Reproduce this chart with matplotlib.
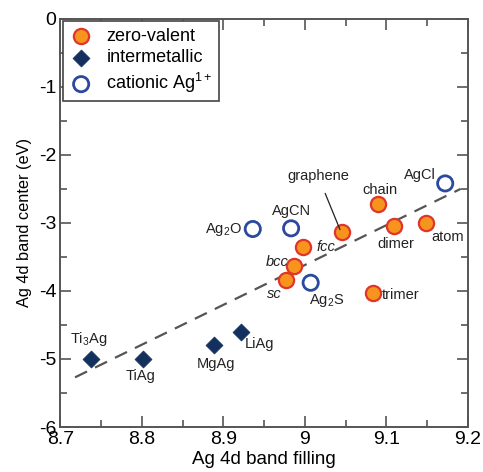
import matplotlib
matplotlib.use("Agg")
import matplotlib.pyplot as plt
from matplotlib.ticker import MultipleLocator

plt.rcParams['font.family'] = ['Liberation Sans', 'DejaVu Sans']
plt.rcParams['mathtext.default'] = 'regular'
plt.rcParams['mathtext.fontset'] = 'custom'
plt.rcParams['mathtext.rm'] = 'Liberation Sans'

# zero-valent Ag
zv_names = ["chain", "dimer", "atom", "graphene", "fcc", "bcc", "sc", "trimer"]
zv_x = [9.089, 9.109, 9.148, 9.046, 8.998, 8.987, 8.977, 9.083]
zv_y = [-2.72, -3.04, -3.00, -3.14, -3.35, -3.64, -3.84, -4.03]

# intermetallic
im_names = ["Ti$_3$Ag", "TiAg", "MgAg", "LiAg"]
im_x = [8.738, 8.801, 8.889, 8.922]
im_y = [-5.00, -5.00, -4.80, -4.60]

# cationic Ag1+
ca_names = ["AgCl", "AgCN", "Ag$_2$O", "Ag$_2$S"]
ca_x = [9.172, 8.983, 8.936, 9.007]
ca_y = [-2.42, -3.08, -3.09, -3.88]

# linear trend line
fit_x = [8.718, 9.191]
fit_y = [-5.27, -2.50]

fig = plt.figure(figsize=(4.83, 4.72), dpi=100)
ax = fig.add_axes([0.125, 0.0953, 0.844, 0.865])

ax.plot(fit_x, fit_y, ls=(0, (6, 4)), color="#555555", lw=1.6, zorder=1)

ax.scatter(zv_x, zv_y, s=120, facecolor="#F7941D", edgecolor="#E0352B",
           linewidth=1.6, zorder=3, label="zero-valent")
ax.scatter(im_x, im_y, s=75, marker="D", facecolor="#14305E", edgecolor="#14305E",
           linewidth=0.5, zorder=3, label="intermetallic")
ax.scatter(ca_x, ca_y, s=120, facecolor="none", edgecolor="#2B4A9E",
           linewidth=2.0, zorder=3, label="cationic Ag$^{1+}$")

fs = 10.5
tc = "#222222"
# zero-valent labels
ax.text(9.092, -2.51, "chain", ha="center", va="center", fontsize=fs, color=tc)
ax.text(9.112, -3.31, "dimer", ha="center", va="center", fontsize=fs, color=tc)
ax.text(9.175, -3.21, "atom", ha="center", va="center", fontsize=fs, color=tc)
ax.annotate("graphene", xy=(9.043, -3.10), xytext=(9.016, -2.31),
            ha="center", va="center", fontsize=fs, color=tc,
            arrowprops=dict(arrowstyle="-", color="#222222", lw=0.9,
                            shrinkA=6, shrinkB=0))
ax.text(9.014, -3.35, "fcc", ha="left", va="center", fontsize=fs, color=tc, style="italic")
ax.text(8.980, -3.58, "bcc", ha="right", va="center", fontsize=fs, color=tc, style="italic")
ax.text(8.963, -4.05, "sc", ha="center", va="center", fontsize=fs, color=tc, style="italic")
ax.text(9.094, -4.06, "trimer", ha="left", va="center", fontsize=fs, color=tc)

# cationic labels
ax.text(9.160, -2.29, "AgCl", ha="right", va="center", fontsize=fs, color=tc)
ax.text(8.983, -2.82, "AgCN", ha="center", va="center", fontsize=fs, color=tc)
ax.text(8.923, -3.09, "Ag$_2$O", ha="right", va="center", fontsize=fs, color=tc)
ax.text(9.027, -4.14, "Ag$_2$S", ha="center", va="center", fontsize=fs, color=tc)

# intermetallic labels
ax.text(8.735, -4.71, "Ti$_3$Ag", ha="center", va="center", fontsize=fs, color=tc)
ax.text(8.798, -5.25, "TiAg", ha="center", va="center", fontsize=fs, color=tc)
ax.text(8.891, -5.07, "MgAg", ha="center", va="center", fontsize=fs, color=tc)
ax.text(8.926, -4.78, "LiAg", ha="left", va="center", fontsize=fs, color=tc)

ax.set_xlim(8.7, 9.2)
ax.set_ylim(-6, 0)
ax.xaxis.set_minor_locator(MultipleLocator(0.05))
ax.yaxis.set_minor_locator(MultipleLocator(0.5))
ax.set_xticks([8.7, 8.8, 8.9, 9.0, 9.1, 9.2])
ax.set_xticklabels(["8.7", "8.8", "8.9", "9", "9.1", "9.2"])
ax.set_yticks([0, -1, -2, -3, -4, -5, -6])
ax.set_yticklabels(["0", "-1", "-2", "-3", "-4", "-5", "-6"])
ax.tick_params(which="both", direction="in", top=True, right=True,
               labelsize=14, color="#555555", width=1.2)
ax.tick_params(which="major", length=8, pad=3)
ax.tick_params(which="minor", length=5)
for sp in ax.spines.values():
    sp.set_color("#555555")
    sp.set_linewidth(1.4)

ax.set_xlabel("Ag 4d band filling", fontsize=13.5, labelpad=2)
ax.set_ylabel("Ag 4d band center (eV)", fontsize=11.8, labelpad=5)

leg = ax.legend(loc="upper left", fontsize=13, frameon=True, fancybox=False,
                borderaxespad=0.15, handletextpad=0.75, borderpad=0.35,
                labelspacing=0.25, handlelength=1.3)
leg.get_frame().set_edgecolor("#444444")
leg.get_frame().set_linewidth(1.2)
leg.get_frame().set_alpha(1)

fig.savefig("out.png", dpi=100)
